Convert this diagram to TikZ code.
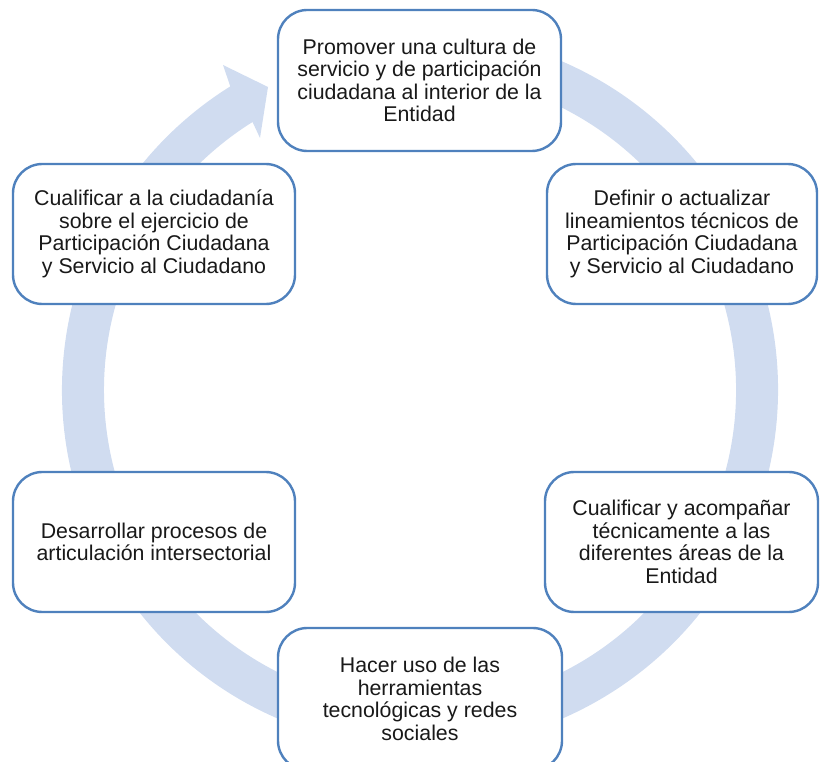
\documentclass[tikz,border=0pt]{standalone}
\usepackage{fontspec}
\setmainfont{Liberation Sans}
\usetikzlibrary{calc}
\definecolor{boxblue}{RGB}{79,129,189}
\definecolor{ringblue}{RGB}{208,220,240}
\definecolor{txt}{RGB}{25,25,25}
\begin{document}
\begin{tikzpicture}[x=0.75pt,y=0.75pt,
  stepbox/.style={draw=boxblue, line width=1.8pt, fill=white, rounded corners=22pt,
    inner sep=0pt, align=center, text=txt,
    font=\fontsize{16}{16.9}\selectfont}]
\useasboundingbox (0,0) rectangle (820,761);
\coordinate (C) at (420,371);
% circular arrow
\fill[ringblue] ($(C)+(122:358)$) arc[start angle=122, end angle=465, radius=358]
  -- ($(C)+(465:316)$) arc[start angle=465, end angle=122, radius=316]
  -- ($(C)+(-160,252)$) -- ($(C)+(-152,303)$) -- ($(C)+(-197,325)$) -- cycle;
% boxes
\node[stepbox, minimum width=283*0.75pt, minimum height=141*0.75pt] (b1) at (419.5,680.5)
  {Promover una cultura de\\servicio y de participación\\ciudadana al interior de la\\Entidad};
\node[stepbox, minimum width=270*0.75pt, minimum height=140*0.75pt] (b2) at (682,527)
  {Definir o actualizar\\lineamientos técnicos de\\Participación Ciudadana\\y Servicio al Ciudadano};
\node[stepbox, minimum width=273*0.75pt, minimum height=140*0.75pt] (b3) at (681.5,219)
  {Cualificar y acompañar\\técnicamente a las\\diferentes áreas de la\\Entidad};
\node[stepbox, minimum width=284*0.75pt, minimum height=142*0.75pt] (b4) at (420,62)
  {Hacer uso de las\\herramientas\\tecnológicas y redes\\sociales};
\node[stepbox, minimum width=282*0.75pt, minimum height=140*0.75pt] (b5) at (154,219)
  {Desarrollar procesos de\\articulación intersectorial};
\node[stepbox, minimum width=282*0.75pt, minimum height=140*0.75pt] (b6) at (154,527)
  {Cualificar a la ciudadanía\\sobre el ejercicio de\\Participación Ciudadana\\y Servicio al Ciudadano};
\end{tikzpicture}
\end{document}
